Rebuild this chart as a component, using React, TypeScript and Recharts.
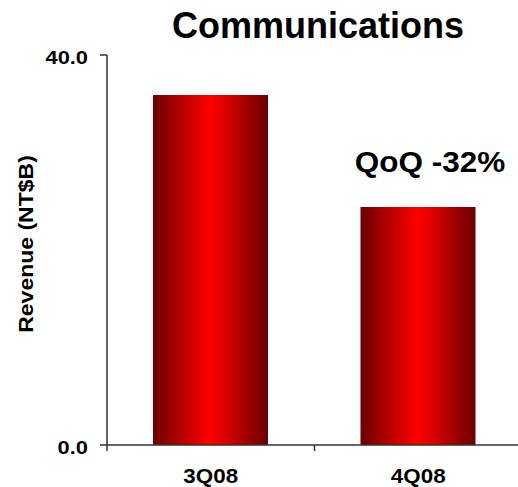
import React from 'react';
import { BarChart, Bar, XAxis, YAxis, Customized } from 'recharts';

// Quarterly revenue for the communications segment
const quarters = ['3Q08', '4Q08'];
const revenue = [35.9, 24.4];
const yTicks = [0, 40];
const yDomain = [0, 40];
const chartTitle = 'Communications';
const yAxisTitle = 'Revenue (NT$B)';
const changeNote = 'QoQ -32%';

const data = quarters.map((q, i) => ({ quarter: q, revenue: revenue[i] }));

const FONT = '"Liberation Sans", Arial, Helvetica, sans-serif';
const AXIS_COLOR = '#333333';

// Text drawn with a slight horizontal stretch around its anchor point
const StretchText = ({ x, y, sx = 1, size, anchor = 'middle', rotate = 0, children }: any) => (
  <g transform={`translate(${x},${y}) rotate(${rotate}) scale(${sx},1)`}>
    <text
      x={0}
      y={0}
      textAnchor={anchor}
      fontFamily={FONT}
      fontWeight="bold"
      fontSize={size}
      fill="#000"
    >
      {children}
    </text>
  </g>
);

const YTick = ({ x, y, payload }: any) => (
  <StretchText x={x} y={y + 9} sx={1.15} size={19} anchor="end">
    {Number(payload.value).toFixed(1)}
  </StretchText>
);

// Category label plus boundary tick marks between categories
const XTick = ({ x, y, payload, index, visibleTicksCount, width }: any) => {
  const half = payload.offset ?? width / (visibleTicksCount * 2);
  return (
    <g>
      <line x1={x - half} y1={y} x2={x - half} y2={y + 6} stroke={AXIS_COLOR} strokeWidth={1.5} />
      {index === visibleTicksCount - 1 && (
        <line x1={x + half} y1={y} x2={x + half} y2={y + 6} stroke={AXIS_COLOR} strokeWidth={1.5} />
      )}
      <StretchText x={x} y={y + 38} sx={1.12} size={20}>
        {payload.value}
      </StretchText>
    </g>
  );
};

const Decorations = () => (
  <g>
    <defs>
      <linearGradient id="barShade" x1="0" y1="0" x2="1" y2="0">
        <stop offset="0%" stopColor="#6a0000" />
        <stop offset="25%" stopColor="#b80000" />
        <stop offset="50%" stopColor="#ff0000" />
        <stop offset="75%" stopColor="#b80000" />
        <stop offset="100%" stopColor="#6a0000" />
      </linearGradient>
    </defs>
    <StretchText x={318} y={38} size={36}>
      {chartTitle}
    </StretchText>
    <StretchText x={33} y={244} size={20} rotate={-90} sx={1.15}>
      {yAxisTitle}
    </StretchText>
    <StretchText x={430} y={172} size={30} sx={1.05}>
      {changeNote}
    </StretchText>
  </g>
);

export default function App() {
  return (
    <div style={{ position: 'absolute', left: 0, top: 0, width: 518, height: 487, overflow: 'hidden', background: '#fff' }}>
      <BarChart
        width={530}
        height={487}
        data={data}
        margin={{ top: 55, right: 8, bottom: 0, left: 0 }}
      >
        <Customized component={<Decorations />} />
        <YAxis
          type="number"
          domain={yDomain}
          ticks={yTicks}
          width={107}
          tickSize={7}
          tickMargin={12}
          axisLine={{ stroke: AXIS_COLOR, strokeWidth: 1.5 }}
          tickLine={{ stroke: AXIS_COLOR, strokeWidth: 1.5 }}
          tick={<YTick />}
        />
        <XAxis
          dataKey="quarter"
          height={42}
          tickSize={0}
          tickMargin={0}
          tickLine={false}
          axisLine={{ stroke: AXIS_COLOR, strokeWidth: 1.5 }}
          tick={<XTick />}
          interval={0}
        />
        <Bar dataKey="revenue" fill="url(#barShade)" barSize={115} isAnimationActive={false} />
      </BarChart>
    </div>
  );
}
